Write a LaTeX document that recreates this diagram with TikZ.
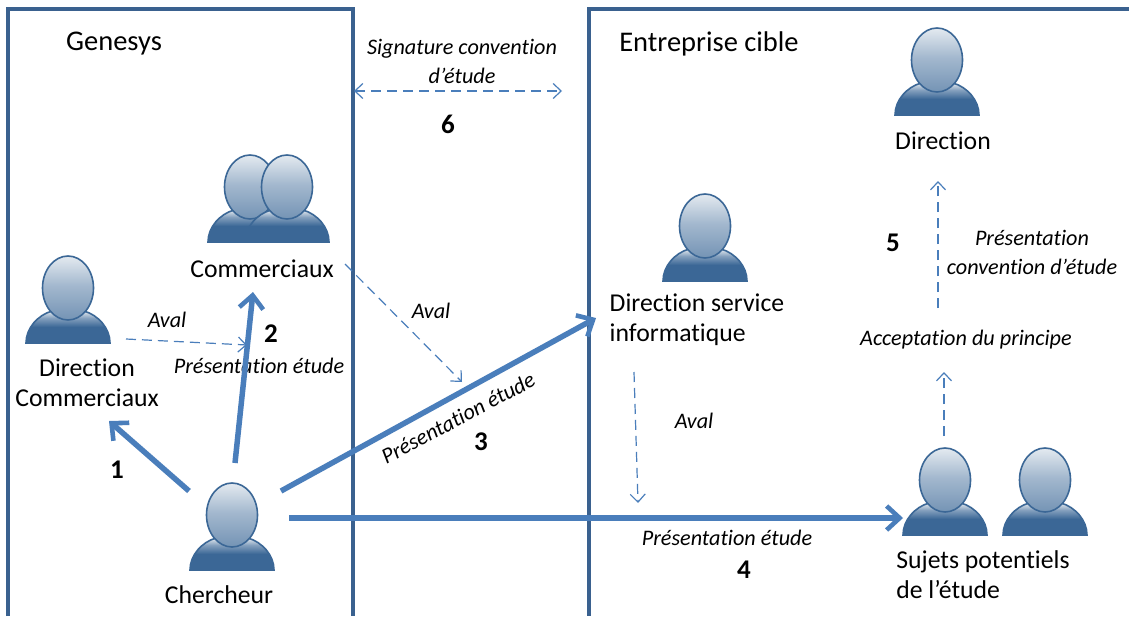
\documentclass[tikz,border=0pt]{standalone}
\usepackage{fontspec}
\setmainfont[RawFeature={-liga}]{Carlito}
\usetikzlibrary{arrows.meta,shadings}
\definecolor{frameblue}{HTML}{3A618F}
\definecolor{arrowblue}{HTML}{4A7EBB}
\definecolor{persondark}{HTML}{3B6796}
\definecolor{personlight}{HTML}{E4EAF0}
\definecolor{personmid}{HTML}{A3B8CE}
\pgfdeclareverticalshading{bodyshade}{100bp}{color(0bp)=(persondark);color(50bp)=(persondark);color(64bp)=(personmid!70!persondark);color(75bp)=(personlight);color(100bp)=(personlight)}
\pgfdeclareverticalshading{headshade}{100bp}{color(0bp)=(personmid!55!persondark);color(25bp)=(personmid!55!persondark);color(52bp)=(personmid);color(75bp)=(personlight);color(100bp)=(personlight)}
\tikzset{
  every node/.style={inner sep=0pt,align=center,text=black},
  lab/.style={font=\fontsize{25.7}{30}\selectfont},
  head/.style={font=\fontsize{28.5}{32}\selectfont},
  ital/.style={font=\fontsize{22.2}{29}\selectfont\itshape},
  num/.style={font=\fontsize{27}{30}\selectfont\bfseries},
  frame/.style={draw=frameblue,line width=3.2pt},
  strong/.style={draw=arrowblue,line width=5.5pt,-{Straight Barb[length=13pt,width=24pt,line width=4.6pt]}},
  thin dash/.style={draw=arrowblue,line width=1.2pt,dash pattern=on 10pt off 6pt,-{Straight Barb[length=8pt,width=15pt,line width=1.2pt]}},
  both dash/.style={draw=arrowblue,line width=1.2pt,dash pattern=on 10pt off 6pt,{Straight Barb[length=8pt,width=15pt,line width=1.2pt]}-{Straight Barb[length=8pt,width=15pt,line width=1.2pt]}},
  personline/.style={draw=persondark,line width=1.6pt},
  pics/person/.style={code={
    \path[personline,shading=bodyshade]
      (-42,55) .. controls (-42,40) and (-30,27) .. (-16,23)
      -- (16,23) .. controls (30,27) and (42,40) .. (42,55) -- cycle;
    \path[personline,shading=headshade]
      (0,0) ellipse [x radius=25.5pt,y radius=32pt];
  }}
}
\begin{document}
\begin{tikzpicture}[x=1pt,y=-1pt]
\useasboundingbox (0,0) rectangle (1129,616);
\fill[white] (0,0) rectangle (1129,616);
% frames
\draw[frame] (8,616) -- (8,9) -- (353,9) -- (353,616);
\draw[frame] (1129,9) -- (589,9) -- (589,616);
% people
\pic at (68,288) {person};
\pic at (250,187) {person};
\pic at (287,187) {person};
\pic at (232,515) {person};
\pic at (705,226) {person};
\pic at (937,60) {person};
\pic at (945,480) {person};
\pic at (1045,480) {person};
% labels
\node[head] (genesys) at (114,44) {Genesys};
\node[head] (cible) at (709,44) {Entreprise cible};
\node[lab] (direction) at (943,141) {Direction};
\node[lab] (commerciaux) at (262,269) {Commerciaux};
\node[lab] (dircom) at (87,383) {Direction\\Commerciaux};
\node[lab] (chercheur) at (219,595) {Chercheur};
\node[lab,align=left] (dsi) at (697,320) {Direction service\\informatique};
\node[lab,align=left] (sujets) at (983,575) {Sujets potentiels\\de l’étude};
\node[ital] (sig) at (462,61) {Signature convention\\d’étude};
\node[ital] (aval1) at (167,320) {Aval};
\node[ital] (pres2) at (259,366) {Présentation étude};
\node[ital] (aval2) at (431,311) {Aval};
\node[ital,rotate=28] (pres3) at (458,418) {Présentation étude};
\node[ital] (aval3) at (694,421) {Aval};
\node[ital] (pres4) at (727,538) {Présentation étude};
\node[ital] (accept) at (966,340) {Acceptation du principe};
\node[ital] (pconv) at (1032,252) {Présentation\\convention d’étude};
\node[num] (n1) at (117,470) {1};
\node[num] (n2) at (271,334) {2};
\node[num] (n3) at (481,442) {3};
\node[num] (n4) at (744,570) {4};
\node[num] (n5) at (893,243) {5};
\node[num] (n6) at (448,124) {6};
% connector ends
\coordinate (a1) at (189,491); \coordinate (b1) at (109,421);
\coordinate (a2) at (235,463); \coordinate (b2) at (253,292);
\coordinate (a3) at (281,491); \coordinate (b3) at (596,318);
\coordinate (a4) at (289,518); \coordinate (b4) at (903,518);
\coordinate (c1) at (126,339); \coordinate (d1) at (247,345);
\coordinate (c2) at (345,264); \coordinate (d2) at (462,382);
\coordinate (c3) at (354,91);  \coordinate (d3) at (562,91);
\coordinate (c4) at (634,372); \coordinate (d4) at (638,503);
\coordinate (c5) at (944,436); \coordinate (d5) at (944,372);
\coordinate (c6) at (938,308); \coordinate (d6) at (938,181);
\draw[strong] (a1) -- (b1);
\draw[strong] (a2) -- (b2);
\draw[strong] (a3) -- (b3);
\draw[strong] (a4) -- (b4);
\draw[thin dash] (c1) -- (d1);
\draw[thin dash] (c2) -- (d2);
\draw[both dash] (c3) -- (d3);
\draw[thin dash] (c4) -- (d4);
\draw[thin dash] (c5) -- (d5);
\draw[thin dash] (c6) -- (d6);
\end{tikzpicture}
\end{document}
